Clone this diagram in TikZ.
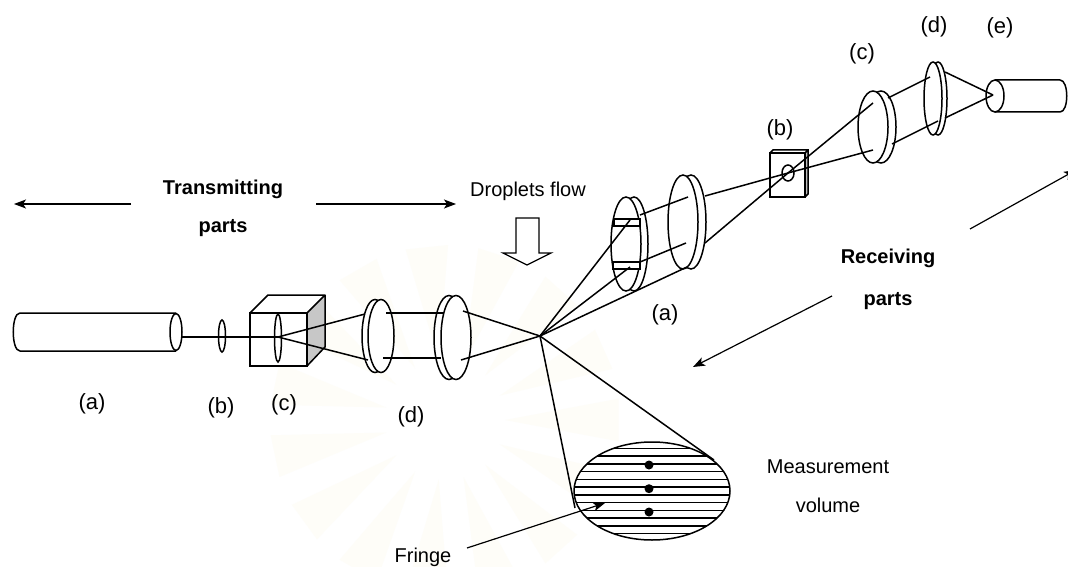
\documentclass[tikz,border=0pt]{standalone}
\usepackage{fontspec}
\setmainfont{Liberation Sans}
\usetikzlibrary{arrows.meta}
\definecolor{wm}{HTML}{FEFDF8}
\tikzset{
  ln/.style={line width=1.5pt,black},
  lens/.style={ln,fill=white},
  arr/.style={line width=1.2pt,-{Stealth[length=12pt,width=9pt,inset=3pt]}},
  lab/.style={font=\fontsize{20}{24}\selectfont,inner sep=0pt,anchor=center},
  plab/.style={lab,font=\fontsize{22}{26}\selectfont},
  blab/.style={lab,font=\fontsize{20}{24}\selectfont\bfseries},
}
\begin{document}
\begin{tikzpicture}[x=1pt,y=-1pt]
\useasboundingbox (0,0) rectangle (1068,567);
\fill[white] (0,0) rectangle (1068,567);
% faint watermark
\foreach \a in {0,24,...,336}
  \fill[wm] ({445+60*cos(\a)},{420+60*sin(\a)}) -- ({445+175*cos(\a-7)},{420+175*sin(\a-7)}) -- ({445+175*cos(\a+7)},{420+175*sin(\a+7)}) -- cycle;
\coordinate (F) at (540,336);
\coordinate (X) at (788,173);
\draw[ln] (176,313) -- (20,313) .. controls (11,313) and (11,351) .. (20,351) -- (176,351);
\draw[lens] (176,332) ellipse [x radius=6,y radius=18.5];
\draw[lens] (222,336) ellipse [x radius=3.5,y radius=16];
\fill[white] (250,313) rectangle (307,366);
\fill[black!22] (307,313) -- (325,295) -- (325,347) -- (307,366) -- cycle;
\fill[white] (250,313) -- (268,295) -- (325,295) -- (307,313) -- cycle;
\draw[ln] (250,313) rectangle (307,366);
\draw[ln,line join=round] (250,313) -- (268,295) -- (325,295) -- (307,313) (325,295) -- (325,347) -- (307,366);
\draw[ln] (278,338) ellipse [x radius=3.5,y radius=24];
\draw[lens] (375,336) ellipse [x radius=13,y radius=36.5];
\draw[lens] (381,336) ellipse [x radius=13,y radius=36.5];
\draw[lens] (449,337.5) ellipse [x radius=15,y radius=42];
\draw[lens] (456,337.5) ellipse [x radius=15,y radius=42];
\draw[ln] (182,337) -- (278,337);
\draw[ln] (278,337) -- (365,314);
\draw[ln] (278,337) -- (368,360);
\draw[ln] (386,313) -- (444,313);
\draw[ln] (383,358) -- (441,358);
\draw[ln] (463,311) -- (F);
\draw[ln] (461,360) -- (F);
\draw[lens] (634,244) ellipse [x radius=14,y radius=47];
\draw[lens] (626,244) ellipse [x radius=15,y radius=47];
\draw[lens] (614,219) rectangle (640,226);
\draw[lens] (613,262) rectangle (640,269);
\draw[lens] (691,222) ellipse [x radius=15,y radius=47];
\draw[lens] (683,222) ellipse [x radius=15,y radius=47];
\draw[ln] (F) -- (630,220);
\draw[ln] (F) -- (630,267);
\draw[ln] (F) -- (687,267);
\draw[ln] (640,215) -- (688,197);
\draw[ln] (640,262) -- (686,243);
\fill[black!25] (805,153) -- (808,150) -- (808,194) -- (805,197) -- cycle;
\draw[ln,fill=white] (770,153) rectangle (805,197);
\draw[ln] (770,153) -- (773,150) -- (808,150) -- (808,194) -- (805,197) (805,153) -- (808,150);
\draw[ln] (X) ellipse [x radius=6,y radius=8];
\draw[lens] (881,127) ellipse [x radius=15,y radius=36];
\draw[lens] (873,127) ellipse [x radius=15,y radius=36];
\draw[lens] (938,98.5) ellipse [x radius=9,y radius=36.5];
\draw[lens] (933,98.5) ellipse [x radius=9,y radius=36.5];
\draw[ln] (705,196) -- (X) -- (873,150);
\draw[ln] (705,243) -- (X) -- (873,103);
\draw[ln] (888,98) -- (930,77);
\draw[ln] (892,144) -- (938,121);
\draw[ln] (995,80) -- (1060,80) .. controls (1069,80) and (1069,112) .. (1060,112) -- (995,112);
\draw[lens] (995,96) ellipse [x radius=9,y radius=16];
\draw[ln] (945,72) -- (993,95);
\draw[ln] (945,118) -- (993,95);
\draw[line width=1.2pt,fill=white] (516,218) -- (539,218) -- (539,253) -- (551,253) -- (527,265) -- (503,253) -- (516,253) -- cycle;
\begin{scope}
\clip (652,491) ellipse [x radius=78,y radius=49];
\fill[white] (570,440) rectangle (735,545);
\foreach \y in {448.3,456,463.8,471.5,479.3,487,494.8,502.5,510.3,518,525.8,533.5}
  \draw[ln] (570,\y) -- (735,\y);
\end{scope}
\draw[ln] (652,491) ellipse [x radius=78,y radius=49];
\foreach \y in {465,488.7,512}
  \fill (649,\y) circle [radius=4.5];
\draw[ln] (F) -- (575,508);
\draw[ln] (F) -- (714,460);
\coordinate (t1) at (131,204); \coordinate (t2) at (14,204);
\coordinate (t3) at (316,204); \coordinate (t4) at (456,204);
\draw[arr] (t1) -- (t2);
\draw[arr] (t3) -- (t4);
\draw[arr] (970,229) -- (1076,170);
\draw[arr] (832,296) -- (693,367);
\draw[arr] (467,548) -- (605,503);
\node[plab] (la) at (92,404) {(a)};
\node[plab] (lb) at (221,408) {(b)};
\node[plab] (lc) at (284,405) {(c)};
\node[plab] (ld) at (411,417) {(d)};
\node[lab] (ldf) at (528,191) {Droplets flow};
\node[blab] (lt) at (223,189) {Transmitting};
\node[blab] (lp) at (223,228) {parts};
\node[blab] (lr) at (888,258) {Receiving};
\node[blab] (lq) at (888,301) {parts};
\node[plab] (ra) at (665,315) {(a)};
\node[plab] (rb) at (780,130) {(b)};
\node[plab] (rc) at (862,54) {(c)};
\node[plab] (rd) at (934,27) {(d)};
\node[plab] (re) at (1000,28) {(e)};
\node[lab] (lm) at (828,467) {Measurement};
\node[lab] (lv) at (828,505) {volume};
\node[lab] (lf) at (423,557) {Fringe};
\end{tikzpicture}
\end{document}
